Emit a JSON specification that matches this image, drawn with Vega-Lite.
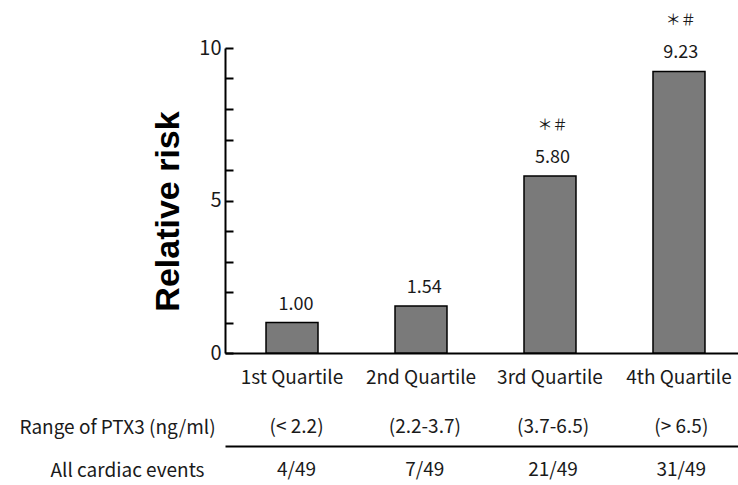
{
  "$schema": "https://vega.github.io/schema/vega-lite/v6.json",
  "width": 513,
  "height": 305,
  "autosize": {"type": "none"},
  "padding": {"left": 225, "top": 48, "right": 0, "bottom": 132},
  "background": "white",
  "config": {
    "view": {"stroke": null},
    "font": "Noto Sans CJK JP",
    "axis": {"labelFont": "Noto Sans CJK JP", "titleFont": "Noto Sans CJK JP", "labelColor": "#1a1a1a", "titleColor": "#1a1a1a"}
  },
  "data": {
    "values": [
      {"quartile": "1st Quartile", "range": "(< 2.2)", "events": "4/49", "value": 1.00, "sig": ""},
      {"quartile": "2nd Quartile", "range": "(2.2-3.7)", "events": "7/49", "value": 1.54, "sig": ""},
      {"quartile": "3rd Quartile", "range": "(3.7-6.5)", "events": "21/49", "value": 5.80, "sig": "＊＃"},
      {"quartile": "4th Quartile", "range": "(> 6.5)", "events": "31/49", "value": 9.23, "sig": "＊＃"}
    ]
  },
  "encoding": {
    "y": {
      "field": "value",
      "type": "quantitative",
      "scale": {"domain": [0, 10], "nice": false, "zero": true},
      "axis": {
        "values": [0, 1, 2, 3, 4, 5, 6, 7, 8, 9, 10],
        "labelExpr": "datum.value % 5 === 0 ? datum.label : ''",
        "grid": false,
        "tickSize": -8,
        "tickWidth": 2,
        "tickColor": "black",
        "domainColor": "black",
        "domainWidth": 2,
        "labelFontSize": 20,
        "labelPadding": 12,
        "title": "Relative risk",
        "titleFont": "Liberation Sans",
        "titleFontSize": 34,
        "titleFontWeight": "bold",
        "titleColor": "black",
        "titleX": -57,
        "titleY": 163,
        "titleAngle": 270,
        "titleAlign": "center",
        "titleBaseline": "middle"
      }
    }
  },
  "layer": [
    {
      "mark": {"type": "bar", "fill": "#7a7a7a", "stroke": "black", "strokeWidth": 1.5},
      "encoding": {
        "x": {
          "field": "quartile",
          "type": "nominal",
          "sort": null,
          "scale": {"paddingInner": 0.597, "paddingOuter": 0.287, "align": 0.554},
          "axis": {
            "orient": "bottom",
            "title": null,
            "ticks": false,
            "domainColor": "black",
            "domainWidth": 2,
            "labelAngle": 0,
            "labelFontSize": 19,
            "labelPadding": 15
          }
        }
      }
    },
    {
      "mark": {"type": "text", "dy": -18, "fontSize": 18, "baseline": "middle", "color": "#1a1a1a"},
      "encoding": {
        "x": {
          "field": "range",
          "type": "nominal",
          "sort": null,
          "scale": {"paddingInner": 0.597, "paddingOuter": 0.287, "align": 0.554},
          "axis": {
            "orient": "bottom",
            "offset": 60,
            "domain": false,
            "ticks": false,
            "labelAngle": 0,
            "labelFontSize": 19,
            "labelPadding": 4,
            "title": "Range of PTX3 (ng/ml)",
            "titleFontSize": 19,
            "titleFontWeight": "normal",
            "titleAngle": 0,
            "titleX": -108,
            "titleY": 14,
            "titleAlign": "center",
            "titleBaseline": "middle"
          }
        },
        "text": {"field": "value", "type": "quantitative", "format": ".2f"}
      }
    },
    {
      "mark": {"type": "text", "dy": -51, "fontSize": 15, "baseline": "middle", "color": "#1a1a1a"},
      "encoding": {
        "x": {
          "field": "events",
          "type": "nominal",
          "sort": null,
          "scale": {"paddingInner": 0.597, "paddingOuter": 0.287, "align": 0.554},
          "axis": {
            "orient": "bottom",
            "offset": 93,
            "domain": true,
            "domainColor": "black",
            "domainWidth": 2,
            "ticks": false,
            "labelAngle": 0,
            "labelFontSize": 19,
            "labelPadding": 14,
            "title": "All cardiac events",
            "titleFontSize": 19,
            "titleFontWeight": "normal",
            "titleAngle": 0,
            "titleX": -98,
            "titleY": 24,
            "titleAlign": "center",
            "titleBaseline": "middle"
          }
        },
        "text": {"field": "sig", "type": "nominal"}
      }
    }
  ],
  "resolve": {"scale": {"x": "independent"}, "axis": {"x": "independent"}}
}
